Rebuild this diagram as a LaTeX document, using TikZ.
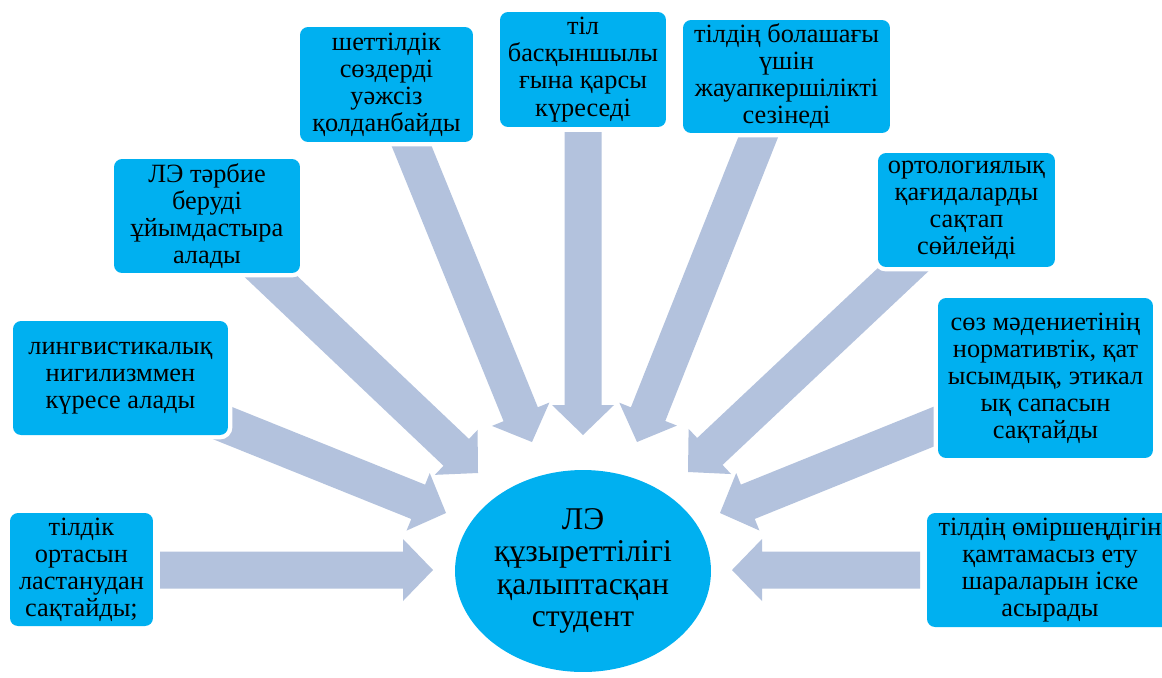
\documentclass[tikz,border=0pt]{standalone}
\usepackage{fontspec}
\setmainfont{Liberation Serif}
\usetikzlibrary{calc,shapes.geometric}
\definecolor{boxcyan}{RGB}{0,176,240}
\definecolor{arrowblue}{RGB}{179,194,221}
\newcommand\blockarrow[2]{%
  \coordinate (hb) at ($(#2)!0.6cm!(#1)$);
  \fill[arrowblue] ($(#1)!0.37cm!90:(#2)$) -- ($(hb)!0.37cm!90:(#2)$) -- ($(hb)!0.62cm!90:(#2)$) -- (#2) -- ($(hb)!0.62cm!-90:(#2)$) -- ($(hb)!0.37cm!-90:(#2)$) -- ($(#1)!0.37cm!-90:(#2)$) -- cycle;}
\tikzset{
  box/.style={rectangle, rounded corners=0.16cm, fill=boxcyan,
    preaction={draw=white, line width=5pt}, inner sep=0pt, align=center,
    font=\rmfamily\fontsize{15}{15.4}\selectfont},
  centre/.style={ellipse, fill=boxcyan, inner sep=0pt, align=center,
    minimum width=5.12cm, minimum height=4.04cm,
    font=\rmfamily\fontsize{18}{18.3}\selectfont}
}
\begin{document}
\begin{tikzpicture}[x=0.02cm, y=-0.02cm]
\clip (0,0) rectangle (1162,677);
\fill[white] (0,0) rectangle (1162,677);
% arrow tails and tips
\coordinate (ta) at (160,570);  \coordinate (pa) at (433,570);
\coordinate (tb) at (200,414);  \coordinate (pb) at (446,513);
\coordinate (tc) at (243,250);  \coordinate (pc) at (478,473);
\coordinate (td) at (401,120);  \coordinate (pd) at (532,442);
\coordinate (te) at (583,132);  \coordinate (pe) at (583,435);
\coordinate (tf) at (765,120);  \coordinate (pf) at (637,442);
\coordinate (tg) at (924,250);  \coordinate (pg) at (688,472);
\coordinate (th) at (960,416);  \coordinate (ph) at (720,513);
\coordinate (ti) at (920,570);  \coordinate (pi) at (732,570);
\blockarrow{ta}{pa}
\blockarrow{tb}{pb}
\blockarrow{tc}{pc}
\blockarrow{td}{pd}
\blockarrow{te}{pe}
\blockarrow{tf}{pf}
\blockarrow{tg}{pg}
\blockarrow{th}{ph}
\blockarrow{ti}{pi}
% boxes
\node[box, minimum width=2.86cm, minimum height=2.26cm] (a) at (81.5,569.5) {тілдік\\ортасын\\ластанудан\\сақтайды;};
\node[box, minimum width=4.30cm, minimum height=2.28cm] (b) at (120.5,378) {лингвистикалық\\нигилизммен\\күресе алады};
\node[box, minimum width=3.72cm, minimum height=2.28cm] (c) at (207,216) {ЛЭ тәрбие\\беруді\\ұйымдастыра\\алады};
\node[box, minimum width=3.46cm, minimum height=2.30cm] (d) at (386.5,84.5) {шеттілдік\\сөздерді\\уәжсіз\\қолданбайды};
\node[box, minimum width=3.32cm, minimum height=2.30cm] (e) at (583,69.5) {тіл\\басқыншылы\\ғына қарсы\\күреседі};
\node[box, minimum width=4.14cm, minimum height=2.26cm] (f) at (786.5,76.5) {тілдің болашағы\\үшін\\жауапкершілікті\\сезінеді};
\node[box, minimum width=3.54cm, minimum height=2.28cm] (g) at (966.5,210) {ортологиялық\\қағидаларды\\сақтап\\сөйлейді};
\node[box, minimum width=4.30cm, minimum height=3.20cm] (h) at (1045.5,378) {сөз мәдениетінің\\нормативтік, қат\\ысымдық, этикал\\ық сапасын\\сақтайды};
\node[box, minimum width=4.92cm, minimum height=2.28cm] (i) at (1050,570) {тілдің өміршеңдігін\\қамтамасыз ету\\шараларын іске\\асырады};
% centre
\node[centre] (s) at (583,571) {ЛЭ\\құзыреттілігі\\қалыптасқан\\студент};
\end{tikzpicture}
\end{document}
